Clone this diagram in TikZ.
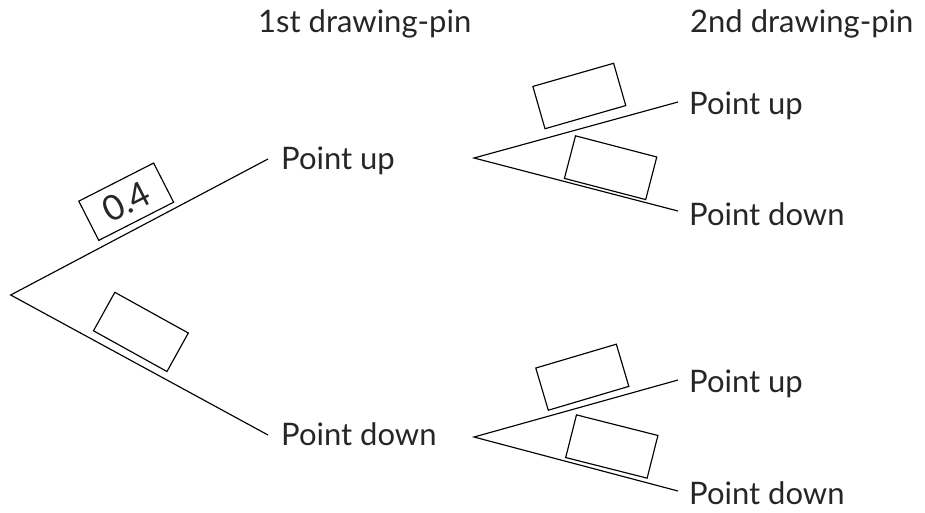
\documentclass[tikz,border=0pt]{standalone}
\usepackage{fontspec}
\setmainfont{Lato}
\begin{document}
\begin{tikzpicture}[x=1pt,y=-1pt,
  branch/.style={line width=1.15pt},
  lbl/.style={anchor=base west,inner sep=0pt,text=black!85,font=\fontsize{31}{36}\selectfont},
  probbox/.style={draw,line width=1.15pt,minimum width=84pt,minimum height=44pt,
    inner sep=0pt,text=black!85,font=\fontsize{35}{40}\selectfont}]
\useasboundingbox (0,0) rectangle (925,512);

% column headings
\node[lbl] (h1) at (258,32) {1st drawing-pin};
\node[lbl] (h2) at (690,32) {2nd drawing-pin};

% first throw
\coordinate (r0) at (10.7,295);
\coordinate (e1u) at (268,159);
\coordinate (e1d) at (268,435);
\node[lbl] (n1u) at (281,169) {Point up};
\node[lbl] (n1d) at (281,445) {Point down};
\draw[branch] (e1u) -- (r0) -- (e1d);
\node[probbox,rotate=27] (p1) at (126.2,201.7) {0.4};
\node[probbox,rotate=-29] (p2) at (140.9,331.9) {};

% second throw after "point up"
\coordinate (r1) at (474,158);
\coordinate (e2u) at (678,102);
\coordinate (e2d) at (678,211);
\node[lbl] (n2u) at (689,114) {Point up};
\node[lbl] (n2d) at (689,225) {Point down};
\draw[branch] (e2u) -- (r1) -- (e2d);
\node[probbox,rotate=16] (p3) at (579.3,96) {};
\node[probbox,rotate=-14.6] (p4) at (610.6,167.7) {};

% second throw after "point down"
\coordinate (r2) at (474,437);
\coordinate (e3u) at (678,380);
\coordinate (e3d) at (678,491);
\node[lbl] (n3u) at (689,392) {Point up};
\node[lbl] (n3d) at (689,504) {Point down};
\draw[branch] (e3u) -- (r2) -- (e3d);
\node[probbox,rotate=16.5] (p5) at (582.3,377.2) {};
\node[probbox,rotate=-14.2] (p6) at (611.8,446.5) {};
\end{tikzpicture}
\end{document}
